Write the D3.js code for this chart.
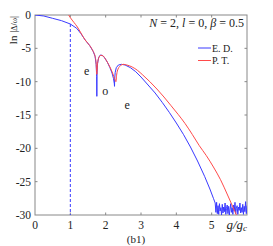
<!DOCTYPE html>
<html><head><meta charset="utf-8">
<script src="https://cdn.jsdelivr.net/npm/d3@7"></script>
<style>body{margin:0;background:#fff}svg{display:block}text{font-family:"Liberation Serif","DejaVu Serif",serif}</style>
</head><body><svg id="c" width="273" height="246"></svg>
<script>
const edX = [0,0.25,0.5,0.75,1.0,1.18,1.3,1.42,1.55,1.65,1.70,1.73,1.745,1.75,1.755,1.77,1.8,1.85,1.9,1.97,2.05,2.12,2.18,2.22,2.245,2.25,2.255,2.27,2.3,2.36,2.45,2.55,2.7,2.85,3.0,3.2,3.4,3.6,3.8,4.0,4.2,4.4,4.6,4.8,4.95,5.05,5.1];
const edY = [0,-0.15,-0.5,-0.85,-1.35,-2.0,-2.8,-3.75,-4.6,-5.5,-6.2,-7.4,-9.2,-12.2,-9.0,-7.3,-6.4,-6.0,-6.05,-6.4,-7.1,-7.9,-8.7,-9.5,-10.3,-10.7,-9.6,-8.6,-7.9,-7.5,-7.4,-7.5,-7.9,-8.5,-9.3,-10.5,-11.7,-13.1,-14.6,-16.2,-17.9,-19.8,-21.9,-24.2,-26.1,-27.5,-28.2];
const noiseX = [5.12,5.14,5.16,5.18,5.2,5.22,5.24,5.26,5.28,5.3,5.32,5.34,5.36,5.38,5.4,5.42,5.44,5.46,5.48,5.5,5.52,5.54,5.56,5.58,5.6,5.62,5.64,5.66,5.68,5.7,5.72,5.74,5.76,5.78,5.8,5.82,5.84,5.86,5.88,5.9,5.92,5.94,5.96,5.98,6.0];
const noiseY = [-29.6,-28.1,-29.8,-28.6,-29.9,-28.3,-29.4,-28.9,-30,-28.4,-29.7,-28.8,-29.5,-28.2,-29.9,-29.0,-28.5,-29.8,-28.7,-30,-29.1,-28.3,-29.6,-28.9,-29.9,-28.5,-29.4,-28.1,-29.8,-29.0,-28.6,-29.9,-28.8,-29.3,-28.2,-29.7,-28.9,-29.6,-28.4,-29.9,-28.7,-29.5,-28.0,-29.8,-28.6];
const ptX = [0.93,1.0,1.1,1.2,1.3,1.42,1.55,1.65,1.70,1.73,1.75,1.77,1.8,1.86,1.92,1.98,2.05,2.12,2.18,2.23,2.27,2.29,2.31,2.35,2.42,2.5,2.6,2.75,2.9,3.05,3.25,3.45,3.65,3.85,4.05,4.25,4.45,4.65,4.85,5.05,5.25,5.45,5.7];
const ptY = [0.2,-0.4,-1.1,-1.8,-2.7,-3.75,-4.6,-5.5,-6.2,-7.2,-8.9,-7.3,-6.5,-6.05,-6.1,-6.5,-7.1,-7.8,-8.5,-9.2,-9.8,-10.0,-9.0,-8.1,-7.6,-7.4,-7.5,-7.8,-8.3,-9.0,-10.0,-11.1,-12.3,-13.6,-14.9,-16.3,-17.9,-19.6,-21.1,-22.8,-24.7,-27.0,-30.0];
const xTicks = [0,1,2,3,4,5];
const xTickLabels = ["0","1","2","3","4","5"];
const yTicks = [0,-5,-10,-15,-20,-25,-30];
const yTickLabels = ["0","-5","-10","-15","-20","-25","-30"];
const markers = [{x:1.46,y:-9.0,t:"e"},{x:1.99,y:-12.0,t:"o"},{x:2.61,y:-14.1,t:"e"}];
const legendItems = [{name:"E. D.",color:"#3a3aff"},{name:"P. T.",color:"#ff4a4a"}];

const svg = d3.select("#c");
const L=35,R=247,T=15,B=215;
const x = d3.scaleLinear().domain([0,6]).range([L,R]);
const y = d3.scaleLinear().domain([-30,0]).range([B,T]);
const axisCol="#888";
svg.append("defs").append("clipPath").attr("id","clip").append("rect").attr("x",L).attr("y",T).attr("width",R-L).attr("height",B-T);

svg.append("rect").attr("x",L).attr("y",T).attr("width",R-L).attr("height",B-T).attr("fill","none").attr("stroke",axisCol).attr("stroke-width",1);
const tk = svg.append("g").attr("stroke",axisCol).attr("stroke-width",1);
[1,2,3,4,5].forEach(v=>{
  tk.append("line").attr("x1",x(v)).attr("x2",x(v)).attr("y1",B).attr("y2",B-2.5);
  tk.append("line").attr("x1",x(v)).attr("x2",x(v)).attr("y1",T).attr("y2",T+2.5);
});
[-5,-10,-15,-20,-25].forEach(v=>{
  tk.append("line").attr("x1",L).attr("x2",L+2.5).attr("y1",y(v)).attr("y2",y(v));
  tk.append("line").attr("x1",R).attr("x2",R-2.5).attr("y1",y(v)).attr("y2",y(v));
});
xTicks.forEach((v,i)=>svg.append("text").attr("x",x(v)).attr("y",B+14).attr("text-anchor","middle").attr("font-size",11.5).attr("fill","#222").text(xTickLabels[i]));
yTicks.forEach((v,i)=>svg.append("text").attr("x",L-4).attr("y",y(v)+4).attr("text-anchor","end").attr("font-size",11.5).attr("fill","#222").text(yTickLabels[i]));
const gl = svg.append("text").attr("x",R).attr("y",B+14).attr("text-anchor","end").attr("font-size",13).attr("font-style","italic").attr("fill","#222");
gl.append("tspan").text("g/g");
gl.append("tspan").attr("font-size",9).attr("dy",2).text("c");
svg.append("text").attr("x",136).attr("y",243).attr("text-anchor","middle").attr("font-size",11).attr("fill","#222").text("(b1)");
const yl = svg.append("text").attr("transform","translate(17,30) rotate(-90)").attr("text-anchor","middle").attr("font-size",11).attr("fill","#222");
yl.append("tspan").text("ln |");
yl.append("tspan").attr("font-size",8).text("Δ/ω");
yl.append("tspan").text("|");

const plot = svg.append("g").attr("clip-path","url(#clip)");
const line = d3.line().x(d=>x(d[0])).y(d=>y(d[1]));
plot.append("line").attr("x1",x(1)).attr("x2",x(1)).attr("y1",y(edY[4])).attr("y2",B).attr("stroke","#3a3aff").attr("stroke-width",1).attr("stroke-dasharray","3,2");
const edData = edX.map((v,i)=>[v,edY[i]]).concat(noiseX.map((v,i)=>[v,noiseY[i]]));
const ptData = ptX.map((v,i)=>[v,ptY[i]]);
plot.append("path").datum(edData).attr("d",line).attr("fill","none").attr("stroke",legendItems[0].color).attr("stroke-width",1);
plot.append("path").datum(ptData).attr("d",line.curve(d3.curveMonotoneX)).attr("fill","none").attr("stroke",legendItems[1].color).attr("stroke-width",1);

markers.forEach(m=>svg.append("text").attr("x",x(m.x)).attr("y",y(m.y)).attr("text-anchor","middle").attr("font-size",12).attr("fill","#222").text(m.t));

const tt = svg.append("text").attr("x",244).attr("y",27).attr("text-anchor","end").attr("font-size",12).attr("fill","#222");
tt.append("tspan").attr("font-style","italic").text("N");
tt.append("tspan").text(" = 2, ");
tt.append("tspan").attr("font-style","italic").text("l");
tt.append("tspan").text(" = 0, ");
tt.append("tspan").attr("font-style","italic").text("β");
tt.append("tspan").text(" = 0.5");
legendItems.forEach((d,i)=>{
  const yy = 48 + i*12.5;
  svg.append("line").attr("x1",198).attr("x2",211).attr("y1",yy).attr("y2",yy).attr("stroke",d.color).attr("stroke-width",1);
  svg.append("text").attr("x",212).attr("y",yy+3.5).attr("font-size",10).attr("fill","#222").text(d.name);
});
</script></body></html>
